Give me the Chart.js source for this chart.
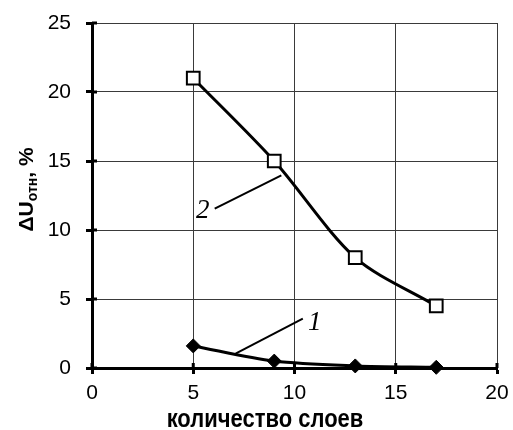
<!DOCTYPE html>
<html>
<head>
<meta charset="utf-8">
<script src="https://cdn.jsdelivr.net/npm/chart.js@4"></script>
<style>
  body { margin: 0; background: #fff; }
  #wrap { width: 513px; height: 430px; }
</style>
</head>
<body>
<div id="wrap"><canvas id="sloiChart" width="513" height="430"></canvas></div>
<script>
// количество слоев (ось X)
var sloi = [5, 9, 13, 17];
// кривая 1
var krivaya1 = [1.6, 0.5, 0.15, 0.05];
// кривая 2
var krivaya2 = [21, 15, 8, 4.5];

// подписи кривых и выноски (в координатах данных)
var podpisi = ['1', '2'];
var podpisTochki = [[11.0, 3.3], [5.47, 11.4]];
var vynoski = [[[7.09, 1.04], [10.41, 3.58]], [[6.06, 11.55], [9.35, 13.96]]];

var nazvanieX = 'количество слоев';

function toXY(arr) {
    return arr.map(function (v, i) { return { x: sloi[i], y: v }; });
}

var podpisiPlugin = {
    id: 'podpisi',
    afterDraw: function (chart) {
        var ctx = chart.ctx;
        var sx = chart.scales.x, sy = chart.scales.y;
        ctx.save();

        // внутренние части засечек
        ctx.strokeStyle = '#000';
        ctx.lineWidth = 3;
        sx.ticks.forEach(function (t) {
            var px = sx.getPixelForValue(t.value);
            ctx.beginPath();
            ctx.moveTo(px, sy.bottom);
            ctx.lineTo(px, sy.bottom - 5);
            ctx.stroke();
        });
        sy.ticks.forEach(function (t) {
            var py = sy.getPixelForValue(t.value);
            ctx.beginPath();
            ctx.moveTo(sx.left, py);
            ctx.lineTo(sx.left + 5, py);
            ctx.stroke();
        });

        // выноски
        ctx.lineWidth = 2;
        vynoski.forEach(function (v) {
            ctx.beginPath();
            ctx.moveTo(sx.getPixelForValue(v[0][0]), sy.getPixelForValue(v[0][1]));
            ctx.lineTo(sx.getPixelForValue(v[1][0]), sy.getPixelForValue(v[1][1]));
            ctx.stroke();
        });

        ctx.fillStyle = '#000';
        ctx.font = 'italic 27px "Liberation Serif"';
        ctx.textAlign = 'center';
        ctx.textBaseline = 'middle';
        podpisi.forEach(function (p, i) {
            ctx.fillText(p, sx.getPixelForValue(podpisTochki[i][0]), sy.getPixelForValue(podpisTochki[i][1]));
        });

        // подпись оси X (немного вытянута по вертикали, как в оригинале)
        ctx.save();
        ctx.translate(265, 420);
        ctx.scale(1, 1.15);
        ctx.font = 'bold 22px "Liberation Sans"';
        ctx.fillText(nazvanieX, 0, 0);
        ctx.restore();

        // подпись оси Y с индексом
        ctx.translate(25, (sy.top + sy.bottom) / 2 - 6);
        ctx.rotate(-Math.PI / 2);
        ctx.textAlign = 'left';
        ctx.textBaseline = 'alphabetic';
        var big = 'bold 21px "Liberation Sans"';
        var small = 'bold 14px "Liberation Sans"';
        var parts = [['ΔU', big, 0], ['отн', small, 4], [', %', big, 0]];
        var w = 0;
        parts.forEach(function (p) { ctx.font = p[1]; w += ctx.measureText(p[0]).width; });
        var x = -w / 2;
        parts.forEach(function (p) {
            ctx.font = p[1];
            ctx.fillText(p[0], x, 8 + p[2]);
            x += ctx.measureText(p[0]).width;
        });
        ctx.restore();
    }
};

var ctxSloi = document.getElementById('sloiChart').getContext('2d');

var sloiChart = new Chart(ctxSloi, {
    type: 'line',
    data: {
        datasets: [{
            label: '1',
            data: toXY(krivaya1),
            borderColor: '#000',
            borderWidth: 3,
            tension: 0.3,
            pointStyle: 'rectRot',
            pointRadius: 7,
            pointBackgroundColor: '#000',
            pointBorderColor: '#000',
            pointBorderWidth: 1,
            clip: false
        }, {
            label: '2',
            data: toXY(krivaya2),
            borderColor: '#000',
            borderWidth: 3,
            tension: 0.3,
            pointStyle: 'rect',
            pointRadius: 9,
            pointBackgroundColor: '#fff',
            pointBorderColor: '#000',
            pointBorderWidth: 2,
            clip: false
        }]
    },
    options: {
        responsive: false,
        animation: false,
        layout: { padding: { left: 0, right: 16, top: 23, bottom: 0 } },
        plugins: {
            legend: { display: false },
            tooltip: { enabled: false }
        },
        scales: {
            x: {
                type: 'linear',
                min: 0,
                max: 20,
                ticks: {
                    stepSize: 5,
                    color: '#000',
                    font: { family: 'Liberation Sans', size: 21 },
                    padding: 7
                },
                grid: { color: '#3a3a3a', lineWidth: 1, tickColor: '#000', tickWidth: 3, tickLength: 6 },
                border: { display: true, color: '#000', width: 3 },
                afterFit: function (scale) {
                    scale.height = 62;
                    scale.paddingLeft = 0;
                    scale.paddingRight = 0;
                }
            },
            y: {
                min: 0,
                max: 25,
                ticks: {
                    stepSize: 5,
                    color: '#000',
                    font: { family: 'Liberation Sans', size: 21 },
                    padding: 15
                },
                grid: { color: '#3a3a3a', lineWidth: 1, tickColor: '#000', tickWidth: 3, tickLength: 6 },
                border: { display: true, color: '#000', width: 3 },
                afterFit: function (scale) {
                    scale.width = 92;
                    scale.paddingTop = 0;
                    scale.paddingBottom = 0;
                }
            }
        }
    },
    plugins: [podpisiPlugin]
});
</script>
</body>
</html>
